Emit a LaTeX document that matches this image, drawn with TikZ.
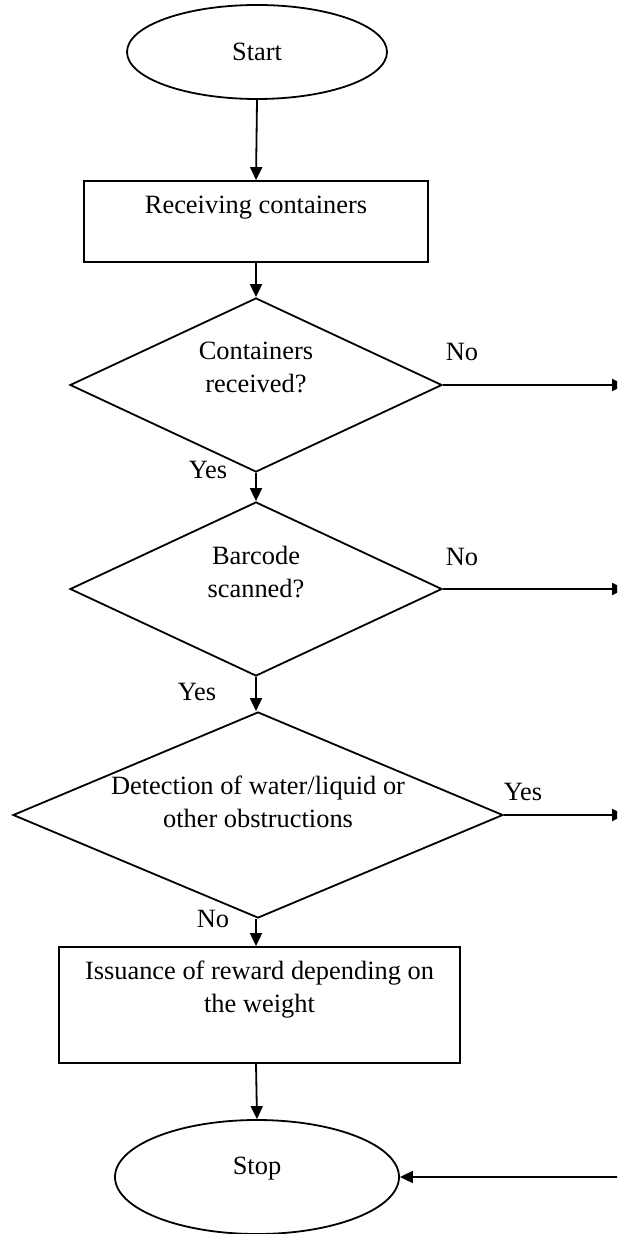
\documentclass[tikz,border=0pt]{standalone}
\usepackage{fontspec}
\setmainfont{Liberation Serif}
\usetikzlibrary{arrows.meta, shapes.geometric}
\tikzset{terminal/.style={ellipse, draw=black, line width=0.9pt, inner sep=0pt},
process/.style={rectangle, draw=black, line width=0.9pt, inner sep=0pt},
decision/.style={diamond, draw=black, line width=0.9pt, inner sep=0pt},
boxtext/.style={font=\fontsize{13.2}{16.5}\selectfont, align=center, inner sep=0pt},
answer/.style={font=\fontsize{13.2}{16.5}\selectfont, inner sep=0pt},
flow/.style={-{Triangle[length=6.5pt, width=6pt]}, line width=0.9pt}}

\begin{document}
\begin{tikzpicture}[x=0.5pt, y=-0.5pt]
        \useasboundingbox (0,0) rectangle (617,1234);
        \clip (0,0) rectangle (617,1234);
        % Shapes
        \node[terminal, minimum width=130pt, minimum height=47pt,
            label={[boxtext, name=start-text]center:Start}] (start) at (257,52) {};
        \node[process, minimum width=172pt, minimum height=40.5pt,
            label={[boxtext, name=recv-text, yshift=6.75pt]center:Receiving containers}] (recv) at (256,221.5) {};
        \node[decision, minimum width=186pt, minimum height=87pt,
            label={[boxtext, name=dcont-text, yshift=9pt]center:Containers\\received?}] (dcont) at (256,385) {};
        \node[decision, minimum width=186pt, minimum height=87pt,
            label={[boxtext, name=dscan-text, yshift=8.5pt]center:Barcode\\scanned?}] (dscan) at (256,589) {};
        \node[decision, minimum width=245pt, minimum height=103pt,
            label={[boxtext, name=ddetect-text, yshift=6.5pt]center:Detection of water/liquid or\\other obstructions}] (ddetect) at (258,815) {};
        \node[process, minimum width=200.5pt, minimum height=58pt,
            label={[boxtext, name=reward-text, yshift=7.5pt]center:Issuance of reward depending on\\the weight}] (reward) at (259.5,1005) {};
        \node[terminal, minimum width=142pt, minimum height=57pt,
            label={[boxtext, name=stop-text, yshift=4.25pt]center:Stop}] (stop) at (257,1177) {};
        % Loose ends at the right edge
        \coordinate (cont-out) at (625,385);
        \coordinate (scan-out) at (625,589);
        \coordinate (detect-out) at (625,815);
        \coordinate (stop-in) at (620,1177);
        % Connectors
        \draw[flow] (start.south) -- (recv.north);
        \draw[flow] (recv.south) -- (dcont.north);
        \draw[flow] (dcont.south) -- (dscan.north);
        \draw[flow] (dscan.south) -- (ddetect.north -| dscan.south);
        \draw[flow] (ddetect.south -| dscan.south) -- (reward.north -| dscan.south);
        \draw[flow] (reward.south -| dscan.south) -- (stop.north);
        \draw[flow] (dcont.east) -- (cont-out);
        \draw[flow] (dscan.east) -- (scan-out);
        \draw[flow] (ddetect.east) -- (detect-out);
        \draw[flow] (stop-in) -- (stop.east);
        % Answers
        \node[answer] (cont-no) at (462,352) {No};
        \node[answer] (cont-yes) at (208,470) {Yes};
        \node[answer] (scan-no) at (462,557) {No};
        \node[answer] (scan-yes) at (197,692) {Yes};
        \node[answer] (detect-yes) at (523,792) {Yes};
        \node[answer] (detect-no) at (213,919) {No};
    \end{tikzpicture}
\end{document}
